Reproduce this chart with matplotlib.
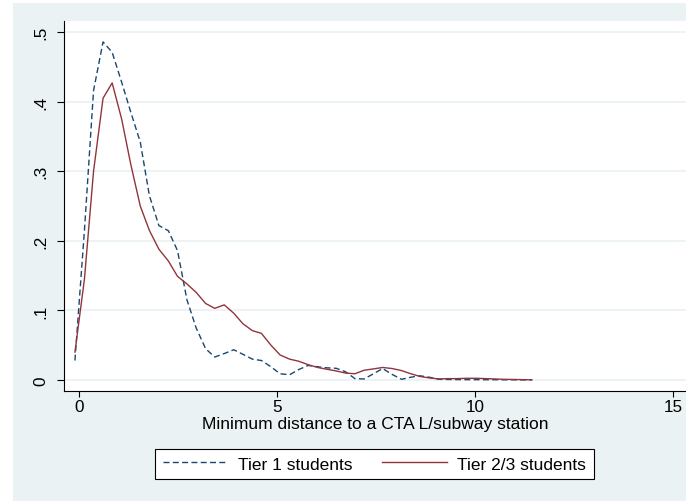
import matplotlib
matplotlib.use('Agg')
from matplotlib import pyplot as plt
from matplotlib.patches import Rectangle

plt.rcParams['font.family'] = ['Liberation Sans', 'DejaVu Sans']

# kernel density grid (distance in miles)
x = [-0.11, 0.13, 0.36, 0.60, 0.83, 1.07, 1.30, 1.54, 1.77, 2.01,
     2.25, 2.48, 2.72, 2.95, 3.19, 3.42, 3.66, 3.90, 4.13, 4.37,
     4.60, 4.84, 5.07, 5.31, 5.54, 5.78, 6.02, 6.25, 6.49, 6.72,
     6.96, 7.19, 7.43, 7.66, 7.90, 8.14, 8.37, 8.61, 8.84, 9.08,
     9.31, 9.55, 9.78, 10.02, 10.26, 10.49, 10.73, 10.96, 11.20, 11.43]

tier1 = [0.028, 0.215, 0.416, 0.486, 0.471, 0.428, 0.385, 0.342, 0.265, 0.222,
         0.2145, 0.186, 0.115, 0.075, 0.045, 0.033, 0.038, 0.0435, 0.037, 0.030,
         0.028, 0.019, 0.009, 0.0075, 0.015, 0.021, 0.019, 0.0175, 0.0168, 0.012,
         0.002, 0.0015, 0.009, 0.0165, 0.008, 0.001, 0.004, 0.006, 0.004, 0.001,
         0.0008, 0.0006, 0.0005, 0.0005, 0.0004, 0.0004, 0.0003, 0.0003, 0.0002, 0.0002]

tier23 = [0.040, 0.145, 0.300, 0.405, 0.427, 0.375, 0.310, 0.250, 0.215, 0.188,
          0.171, 0.149, 0.138, 0.126, 0.110, 0.103, 0.108, 0.096, 0.081, 0.071,
          0.067, 0.050, 0.036, 0.030, 0.027, 0.022, 0.018, 0.0155, 0.013, 0.010,
          0.009, 0.014, 0.016, 0.018, 0.0165, 0.0135, 0.009, 0.005, 0.003, 0.0015,
          0.002, 0.002, 0.0025, 0.0025, 0.002, 0.0015, 0.001, 0.0008, 0.0005, 0.0003]

xticks = [0, 5, 10, 15]
yticks = [0, 0.1, 0.2, 0.3, 0.4, 0.5]
ytick_labels = ['0', '.1', '.2', '.3', '.4', '.5']

navy = '#1a476f'
maroon = '#90353b'
bg = '#eaf2f3'

fig = plt.figure(figsize=(6.86, 5.02), dpi=100, facecolor='white')
# Stata style graph region
fig.patches.append(Rectangle((13 / 686, 0), 1, (502 - 4) / 502,
                             transform=fig.transFigure, facecolor=bg,
                             edgecolor='none', zorder=-5))

ax = fig.add_axes([64 / 686, 1 - 392 / 502, 1 - 64 / 686, (392 - 22) / 502])
ax.set_facecolor('white')

ax.plot(x, tier1, color=navy, linestyle=(0, (4.3, 2.4)), linewidth=1.0,
        label='Tier 1 students')
ax.plot(x, tier23, color=maroon, linestyle='-', linewidth=1.0,
        label='Tier 2/3 students')

ax.set_xlim(-0.386, 15.32)
ax.set_ylim(-0.0158, 0.516)

ax.set_xticks(xticks)
ax.set_xticklabels([str(t) for t in xticks], fontsize=12.3)
ax.set_yticks(yticks)
ax.set_yticklabels(ytick_labels, rotation=90, va='center', fontsize=12.3)

ax.tick_params(axis='x', direction='out', length=4.5, width=0.8, pad=1.5)
ax.tick_params(axis='y', direction='out', length=5, width=0.8, pad=6)

for s in ['top', 'right']:
    ax.spines[s].set_visible(False)
for s in ['left', 'bottom']:
    ax.spines[s].set_linewidth(0.8)

# 网格线
ax.grid(axis='y', color=bg, linewidth=1.3)
ax.set_axisbelow(True)

ax.set_xlabel('Minimum distance to a CTA L/subway station', fontsize=12.5,
              labelpad=1)

leg = fig.legend(loc='center', bbox_to_anchor=(374.5 / 686, 1 - 465 / 502),
                 ncol=2, fontsize=12.5, frameon=True, fancybox=False,
                 handlelength=3.75, handletextpad=0.6, columnspacing=1.65,
                 borderpad=0.45, framealpha=1)
leg.get_frame().set_edgecolor('black')
leg.get_frame().set_linewidth(0.8)
leg.get_frame().set_facecolor('white')

fig.savefig('out.png', dpi=100, facecolor=fig.get_facecolor())
